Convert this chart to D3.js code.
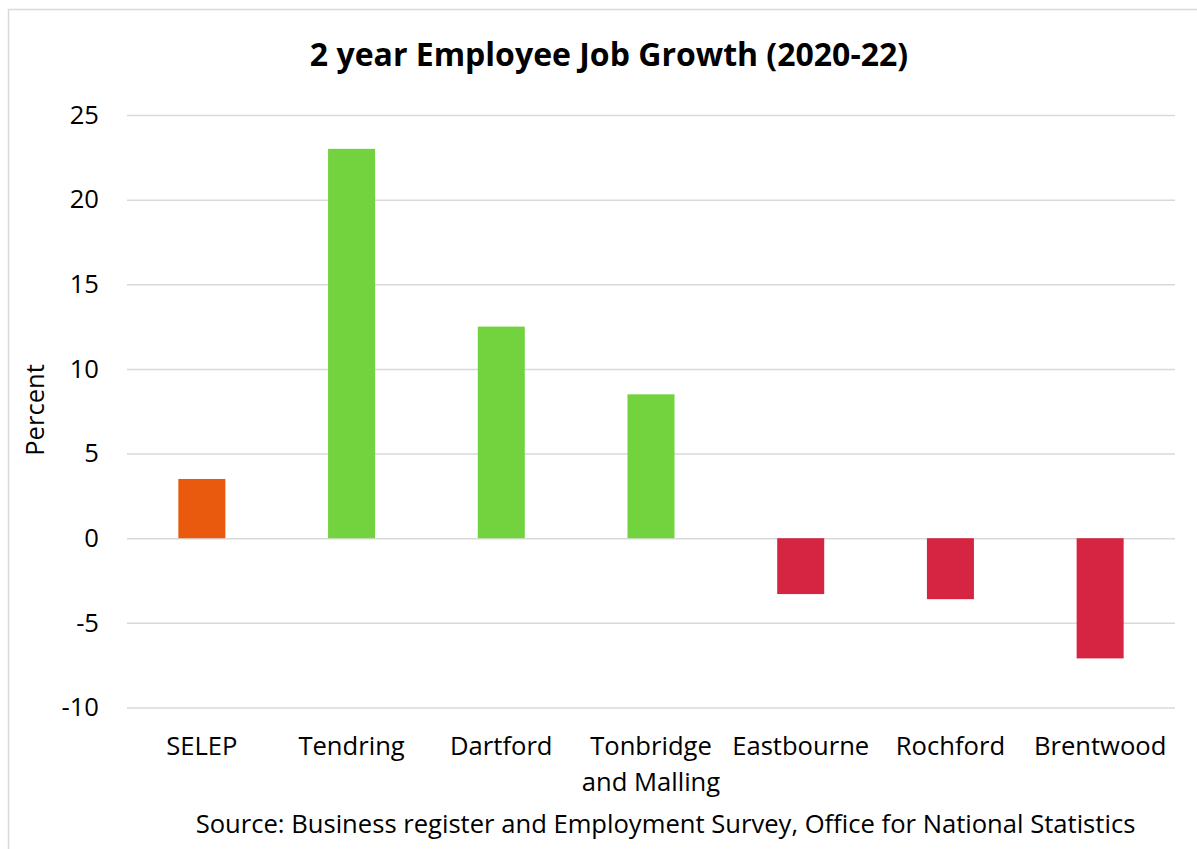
<!DOCTYPE html>
<html>
<head>
<meta charset="utf-8">
<script src="https://cdn.jsdelivr.net/npm/d3@7"></script>
<style>
  html, body { margin: 0; padding: 0; background: #ffffff; }
  svg { display: block; }
  text { font-family: "Open Sans", Lato, sans-serif; fill: #000000; }
</style>
</head>
<body>
<svg id="chart" width="1197" height="849"></svg>
<script>
// Employee job growth by area, 2020 to 2022 (%)
const areas = ["SELEP", "Tendring", "Dartford", "Tonbridge and Malling", "Eastbourne", "Rochford", "Brentwood"];
const growth = [3.5, 23.0, 12.5, 8.5, -3.3, -3.6, -7.1];
const groups = ["region", "up", "up", "up", "down", "down", "down"];
const yTicks = [-10, -5, 0, 5, 10, 15, 20, 25];
const areaLines = [["SELEP"], ["Tendring"], ["Dartford"], ["Tonbridge", "and Malling"], ["Eastbourne"], ["Rochford"], ["Brentwood"]];

const titleText = "2 year Employee Job Growth (2020-22)";
const yLabel = "Percent";
const sourceText = "Source: Business register and Employment Survey, Office for National Statistics";

const colour = d3.scaleOrdinal()
  .domain(["region", "up", "down"])
  .range(["#E95A0E", "#72D33F", "#D52542"]);

const W = 1197, H = 849;
const plot = { left: 127, right: 1175, top: 115, bottom: 707.5 };
const FS = 25.6;

const svg = d3.select("#chart");

// outer chart frame (runs off the right and bottom edges)
svg.append("rect")
  .attr("x", 8.5).attr("y", 9.5)
  .attr("width", W + 20).attr("height", H + 20)
  .attr("fill", "#ffffff")
  .attr("stroke", "#D9D9D9").attr("stroke-width", 1.5);

const data = areas.map((a, i) => ({ area: a, value: growth[i], group: groups[i], lines: areaLines[i] }));

const x = d3.scaleBand()
  .domain(areas)
  .range([plot.left, plot.right])
  .paddingInner(0.686)
  .paddingOuter(0.343);

const y = d3.scaleLinear()
  .domain([-10, 25])
  .range([plot.bottom, plot.top]);

// horizontal gridlines with plain hyphen-minus labels
const yAxis = d3.axisLeft(y)
  .tickValues(yTicks)
  .tickSize(-(plot.right - plot.left))
  .tickPadding(28)
  .tickFormat(d => String(d));

const gy = svg.append("g")
  .attr("transform", `translate(${plot.left},0)`)
  .call(yAxis);
gy.select(".domain").remove();
gy.selectAll(".tick line").attr("stroke", "#D9D9D9").attr("stroke-width", 1.5);
gy.selectAll(".tick text")
  .attr("font-size", FS)
  .attr("fill", "#000")
  .attr("font-family", "'Open Sans', sans-serif");

// bars
svg.append("g")
  .selectAll("rect")
  .data(data)
  .join("rect")
  .attr("x", d => x(d.area))
  .attr("width", x.bandwidth())
  .attr("y", d => y(Math.max(0, d.value)))
  .attr("height", d => Math.abs(y(d.value) - y(0)))
  .attr("fill", d => colour(d.group));

// category labels
const labels = svg.append("g")
  .selectAll("text")
  .data(data)
  .join("text")
  .attr("x", d => x(d.area) + x.bandwidth() / 2)
  .attr("y", 755)
  .attr("text-anchor", "middle")
  .attr("font-size", FS);
labels.selectAll("tspan")
  .data(d => d.lines.map((l, j) => ({ l, j, cx: x(d.area) + x.bandwidth() / 2 })))
  .join("tspan")
  .attr("x", t => t.cx)
  .attr("dy", t => t.j === 0 ? 0 : 35.5)
  .text(t => t.l);

// axis title
svg.append("text")
  .attr("transform", "translate(44,410) rotate(-90)")
  .attr("text-anchor", "middle")
  .attr("font-size", FS)
  .text(yLabel);

// chart title
svg.append("text")
  .attr("x", 609).attr("y", 65.5)
  .attr("text-anchor", "middle")
  .attr("font-size", 32)
  .attr("font-weight", "bold")
  .text(titleText);

// source note
svg.append("text")
  .attr("x", 665.5).attr("y", 833)
  .attr("text-anchor", "middle")
  .attr("font-size", FS)
  .text(sourceText);
</script>
</body>
</html>
